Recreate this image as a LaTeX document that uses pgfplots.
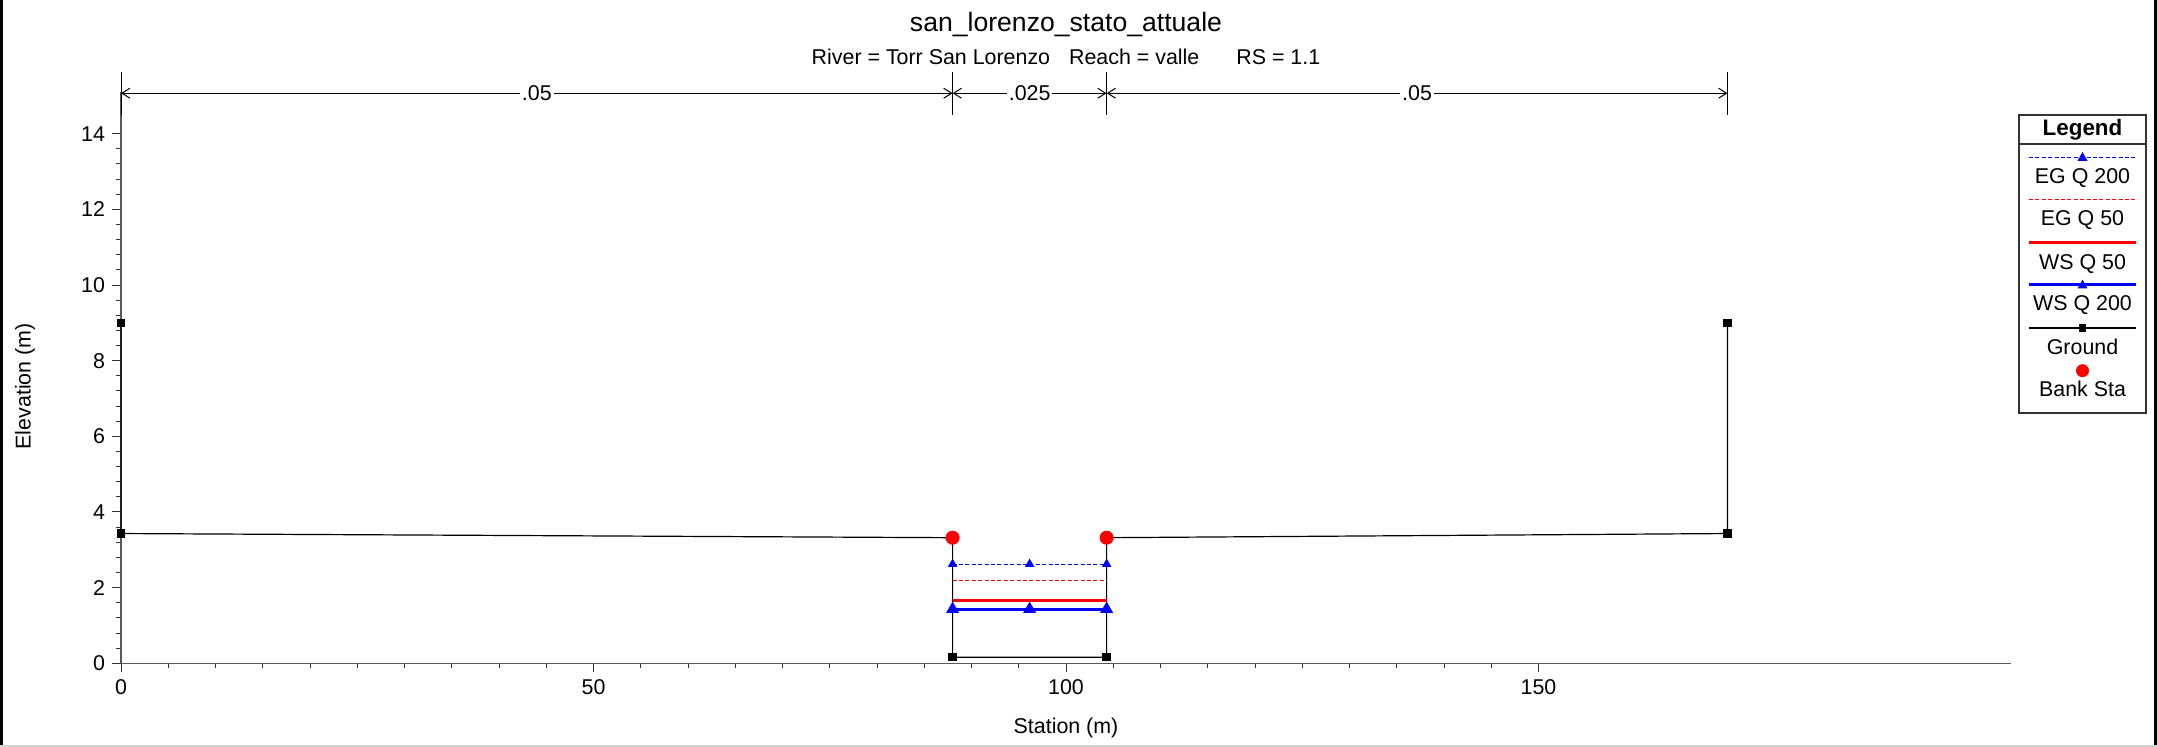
\documentclass[border=0pt]{standalone}
\usepackage{pgfplots}
\pgfplotsset{compat=1.18}
\usepackage{fontspec}
\setmainfont{Liberation Sans}
\usetikzlibrary{arrows.meta}
\definecolor{hblue}{RGB}{0,0,255}
\definecolor{hred}{RGB}{255,0,0}
\newcommand{\lfont}{\fontsize{10.7}{12.8}\selectfont}
\begin{document}
\begin{tikzpicture}[x=0.5pt,y=0.5pt]
\path[use as bounding box] (0,0) rectangle (2157,747);
\fill[white] (0,0) rectangle (2157,747);
\draw[black,line width=1.5pt] (1.5,0)--(1.5,747);
\draw[black,line width=1.5pt] (2155.5,0)--(2155.5,747);
\draw[gray!35,line width=1pt] (0,1)--(2157,1);
\begin{axis}[
  at={(60.5pt,41.85pt)}, anchor=south west,
  scale only axis, width=945pt, height=285.6pt,
  xmin=0, xmax=200, ymin=0, ymax=15.1,
  axis x line*=bottom, axis y line*=left,
  axis line style={gray!70!black, line width=0.6pt},
  clip=false,
  tick align=outside,
  xtick={0,50,100,150}, minor x tick num=9,
  ytick={0,2,...,14}, minor y tick num=4,
  major tick length=4.5pt, minor tick length=2.5pt,
  tick style={black!80, line width=0.5pt},
  ticklabel style={font=\lfont},
  /pgf/number format/assume math mode=true,
  xlabel={Station (m)}, ylabel={Elevation (m)},
  label style={font=\lfont},
  xlabel style={at={(axis description cs:0.5,-0.1133)}, anchor=center},
  ylabel style={at={(axis description cs:-0.0508,0.485)}, anchor=center},
  title={san\_lorenzo\_stato\_attuale},
  title style={at={(axis description cs:0.5,1.0844)}, anchor=base, font=\fontsize{13.3}{16}\selectfont},
]
% Ground
\addplot[black, line width=0.6pt, mark=square*, mark size=1.8pt, mark options={solid}]
  coordinates {(0,9.0) (0,3.43) (88,3.32) (88,0.16) (104.3,0.16) (104.3,3.32) (170,3.43) (170,9.0)};
% EG Q 50
\addplot[hred, line width=0.5pt, dash pattern=on 2pt off 1.2pt, mark=none]
  coordinates {(88,2.19) (104.3,2.19)};
% EG Q 200
\addplot[hblue, line width=0.5pt, dash pattern=on 2pt off 1.2pt, mark=triangle*, mark size=2.3pt, mark options={solid, fill=hblue}]
  coordinates {(88,2.62) (96.15,2.62) (104.3,2.62)};
% WS Q 50
\addplot[hred, line width=1.5pt, mark=none]
  coordinates {(88,1.67) (104.3,1.67)};
% WS Q 200
\addplot[hblue, line width=1.5pt, mark=triangle*, mark size=2.3pt, mark options={solid, fill=hblue}]
  coordinates {(88,1.43) (96.15,1.43) (104.3,1.43)};
% Bank Sta
\addplot[only marks, mark=*, mark size=3.3pt, color=hred, mark options={fill=hred, draw=hred}]
  coordinates {(88,3.32) (104.3,3.32)};
% subtitle
\node[anchor=base, font=\lfont] at (axis description cs:0.5,1.0483)
  {River = Torr San Lorenzo\hspace{9.5pt}Reach = valle\hspace{18.5pt}RS = 1.1};
% roughness annotation
\draw[black, line width=0.5pt] (axis cs:0,14.49) -- (axis cs:0,15.64);
\draw[black, line width=0.5pt] (axis cs:88,14.49) -- (axis cs:88,15.64);
\draw[black, line width=0.5pt] (axis cs:104.3,14.49) -- (axis cs:104.3,15.64);
\draw[black, line width=0.5pt] (axis cs:170,14.49) -- (axis cs:170,15.64);
\draw[{Straight Barb[length=4pt,width=5pt]}-{Straight Barb[length=4pt,width=5pt]}, line width=0.5pt]
  (axis cs:0,15.07) -- node[fill=white, inner sep=1pt, font=\lfont] {.05} (axis cs:88,15.07);
\draw[{Straight Barb[length=4pt,width=5pt]}-{Straight Barb[length=4pt,width=5pt]}, line width=0.5pt]
  (axis cs:88,15.07) -- node[fill=white, inner sep=1pt, font=\lfont] {.025} (axis cs:104.3,15.07);
\draw[{Straight Barb[length=4pt,width=5pt]}-{Straight Barb[length=4pt,width=5pt]}, line width=0.5pt]
  (axis cs:104.3,15.07) -- node[fill=white, inner sep=1pt, font=\lfont] {.05} (axis cs:170,15.07);
\end{axis}
% Legend (manual, samples above labels)
\draw[black!80, line width=0.6pt] (2019,334) rectangle (2146,632);
\draw[black!80, line width=0.6pt] (2019,603) -- (2146,603);
\node[anchor=base, font=\fontsize{11.2}{13}\selectfont\bfseries] at (2082.5,611) {Legend};
% EG Q 200
\draw[hblue, line width=0.5pt, dash pattern=on 2pt off 1.2pt] (2029,589.7)--(2136,589.7);
\fill[hblue] (2077.5,586.2)--(2087.5,586.2)--(2082.5,595)--cycle;
\node[anchor=base, font=\lfont] at (2082.5,563.3) {EG Q 200};
% EG Q 50
\draw[hred, line width=0.5pt, dash pattern=on 2pt off 1.2pt] (2029,547)--(2136,547);
\node[anchor=base, font=\lfont] at (2082.5,521.3) {EG Q 50};
% WS Q 50
\draw[hred, line width=1.5pt] (2029,504.3)--(2136,504.3);
\node[anchor=base, font=\lfont] at (2082.5,477.6) {WS Q 50};
% WS Q 200
\draw[hblue, line width=1.5pt] (2029,462)--(2136,462);
\fill[hblue] (2077.5,458.5)--(2087.5,458.5)--(2082.5,467.3)--cycle;
\node[anchor=base, font=\lfont] at (2082.5,436.3) {WS Q 200};
% Ground
\draw[black, line width=0.6pt] (2029,419)--(2136,419);
\fill[black] (2078.9,415.4) rectangle (2086.1,422.6);
\node[anchor=base, font=\lfont] at (2082.5,392.6) {Ground};
% Bank Sta
\fill[hred] (2082.5,376.3) circle (6.5);
\node[anchor=base, font=\lfont] at (2082.5,350.3) {Bank Sta};
\end{tikzpicture}
\end{document}
